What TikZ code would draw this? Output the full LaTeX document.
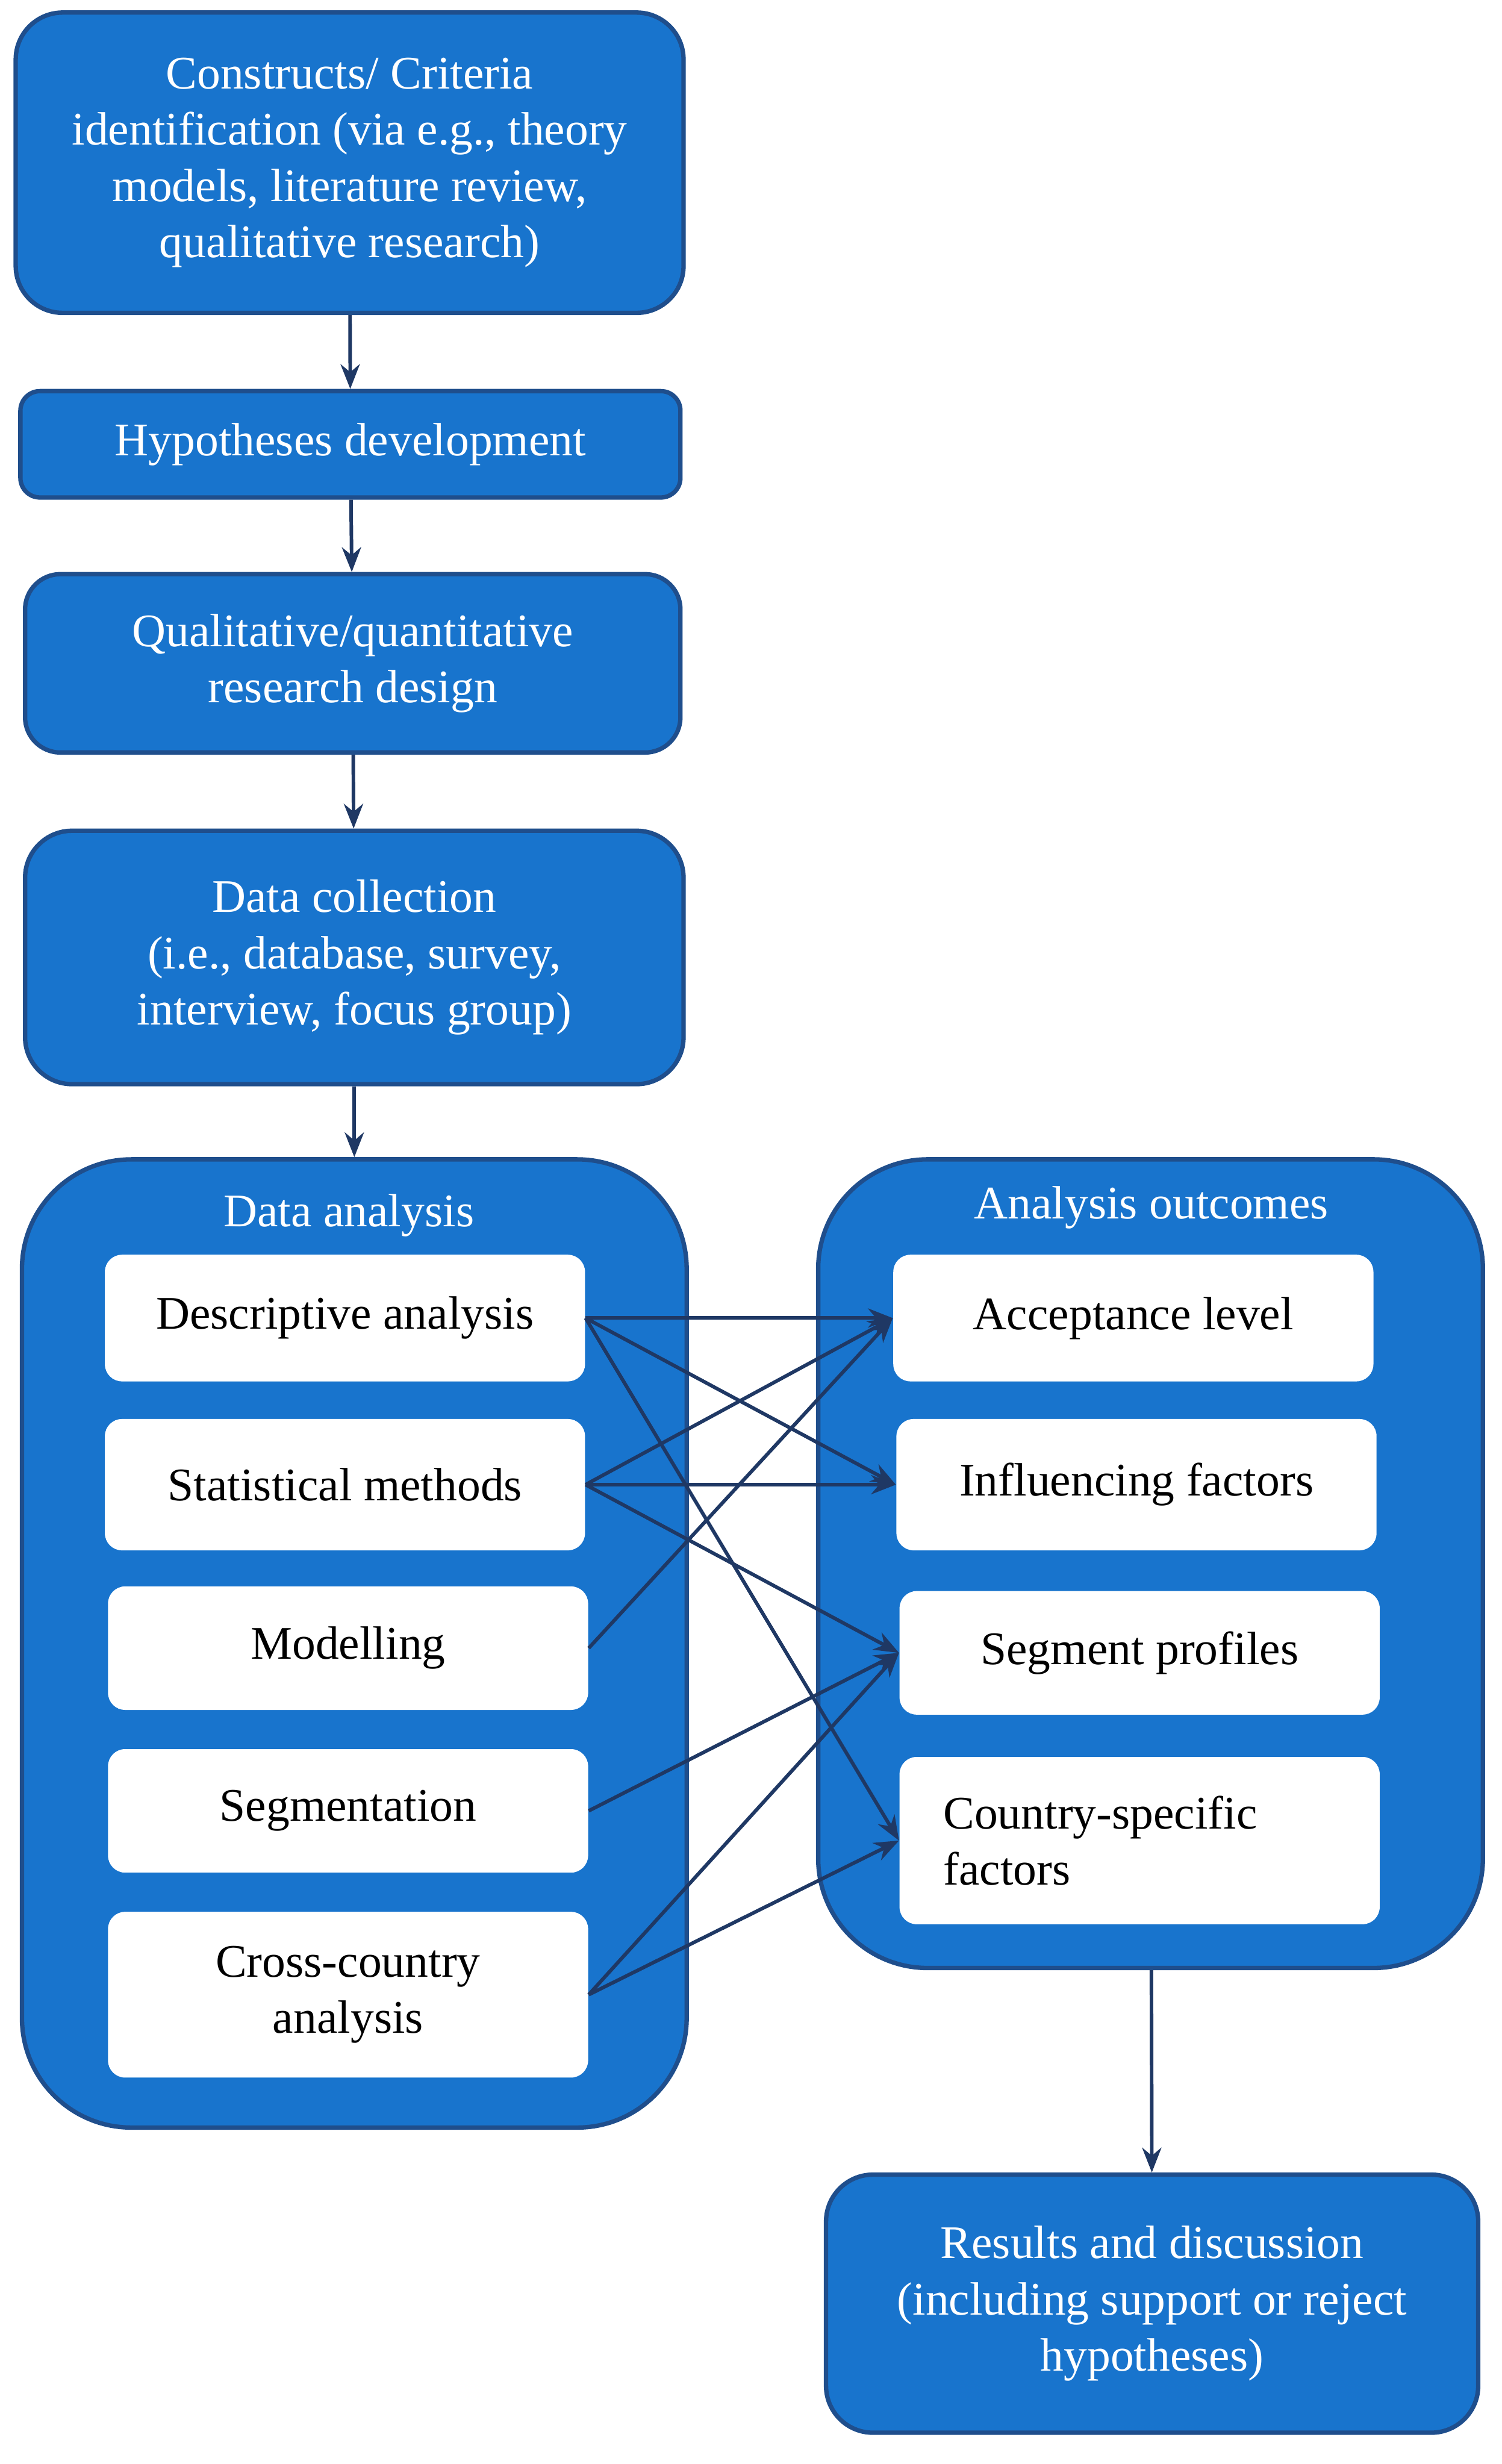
\documentclass[tikz,border=0pt]{standalone}
\usepackage{fontspec}
\setmainfont{Liberation Serif}
\usetikzlibrary{arrows.meta}
\definecolor{bfill}{HTML}{1874CD}
\definecolor{bdraw}{HTML}{1F4E8C}
\definecolor{arr}{HTML}{1F3864}
\begin{document}
\begin{tikzpicture}[x=0.02cm,y=-0.02cm,
  every node/.style={font=\fontsize{17}{20.5}\selectfont},
  box/.style={draw=bdraw,line width=1.6pt,fill=bfill,text=white,rounded corners=0.6cm,align=center,inner sep=0pt},
  wbox/.style={fill=white,rounded corners=0.22cm,align=center,inner sep=0pt,text=black,minimum width=6.14cm},
  ttl/.style={text=white},
  ar/.style={draw=arr,line width=1.3pt,-{Stealth[length=9pt,width=7pt]}}]
\useasboundingbox (0,0) rectangle (960,1575);
\node[box,minimum width=8.54cm,minimum height=3.84cm] (b1) at (223.5,104) {Constructs/ Criteria\\identification (via e.g., theory\\models, literature review,\\qualitative research)};
\node[box,minimum width=8.44cm,minimum height=1.36cm,rounded corners=0.25cm] (b2) at (224,284) {Hypotheses development};
\node[box,minimum width=8.38cm,minimum height=2.28cm,rounded corners=0.45cm] (b3) at (225.5,424) {Qualitative/quantitative\\research design};
\node[box,minimum width=8.42cm,minimum height=3.24cm] (b4) at (226.5,612) {Data collection\\(i.e., database, survey,\\interview, focus group)};
\node[box,minimum width=8.5cm,minimum height=12.38cm,rounded corners=1.4cm] (da) at (226.5,1050.5) {};
\node[box,minimum width=8.5cm,minimum height=10.34cm,rounded corners=1.4cm] (ao) at (735.5,999.5) {};
\node[box,minimum width=8.34cm,minimum height=3.3cm] (res) at (736.5,1472.5) {Results and discussion\\(including support or reject\\hypotheses)};
\node[ttl] (dat) at (223,777) {Data analysis};
\node[ttl] (aot) at (736,772) {Analysis outcomes};
\node[wbox,minimum height=1.62cm] (desc) at (220.5,842.5) {Descriptive analysis};
\node[wbox,minimum height=1.68cm] (stat) at (220.5,949) {Statistical methods};
\node[wbox,minimum height=1.58cm] (mod) at (222.5,1053.5) {Modelling};
\node[wbox,minimum height=1.58cm] (seg) at (222.5,1157.5) {Segmentation};
\node[wbox,minimum height=2.12cm] (cc) at (222.5,1275) {Cross-country\\analysis};
\node[wbox,minimum height=1.62cm] (acc) at (724.5,842.5) {Acceptance level};
\node[wbox,minimum height=1.68cm] (inf) at (726.5,949) {Influencing factors};
\node[wbox,minimum height=1.58cm] (sp) at (728.5,1056.5) {Segment profiles};
\node[wbox,minimum height=2.14cm,text width=5.02cm,align=left,inner xsep=0.56cm] (cs) at (728.5,1176.5) {Country-specific\\factors};
\draw[ar] (b1) -- (b2);
\draw[ar] (b2) -- (b3);
\draw[ar] (b3) -- (b4);
\draw[ar] (b4) -- (da);
\draw[ar] (ao) -- (res);
\draw[ar] (desc.east) -- (acc.west);
\draw[ar] (desc.east) -- (inf.west);
\draw[ar] (desc.east) -- (cs.west);
\draw[ar] (stat.east) -- (acc.west);
\draw[ar] (stat.east) -- (inf.west);
\draw[ar] (stat.east) -- (sp.west);
\draw[ar] (mod.east) -- (acc.west);
\draw[ar] (seg.east) -- (sp.west);
\draw[ar] (cc.east) -- (sp.west);
\draw[ar] (cc.east) -- (cs.west);
\end{tikzpicture}
\end{document}
